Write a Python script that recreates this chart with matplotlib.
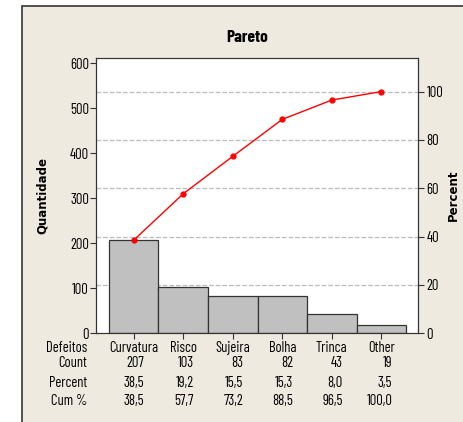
import matplotlib.pyplot as plt
from matplotlib.patches import Rectangle
from matplotlib.transforms import blended_transform_factory

# Dados do gráfico de Pareto
defeitos = ['Curvatura', 'Risco', 'Sujeira', 'Bolha', 'Trinca', 'Other']
count = [207, 103, 83, 82, 43, 19]
percent = [38.5, 19.2, 15.5, 15.3, 8.0, 3.5]
cum_pct = [38.5, 57.7, 73.2, 88.5, 96.5, 100.0]

# fonte estreita parecida com a do Minitab
plt.rcParams['font.family'] = ['Barlow Condensed', 'DejaVu Sans']

total = sum(count)
fundo = '#EEEAE0'
TAM = 10.5


def fmt(v):
    return f'{v:.1f}'.replace('.', ',')


fig = plt.figure(figsize=(4.64, 4.22), dpi=100, facecolor='white')

# moldura bege
fig.patches.append(Rectangle((22 / 464, -0.1), 1.2, 1 - 6 / 422 + 0.1,
                             transform=fig.transFigure, facecolor=fundo,
                             edgecolor='#333333', linewidth=1.2, zorder=-10))

ax = fig.add_axes([0.2069, 0.2102, 0.694, 0.6517])
ax.set_facecolor('white')
x = list(range(len(defeitos)))

# linhas de grade (em percentuais do total)
for p in [20, 40, 60, 80, 100]:
    ax.axhline(p / 100 * total, color='#BBBBBB', linestyle='--', linewidth=0.9, zorder=0)

ax.bar(x, count, width=1.0, color='#C0C0C0', edgecolor='#333333', linewidth=0.9, zorder=2)
ax.set_xlim(-0.76, 5.74)
ax.set_ylim(0, 611)
ax.set_yticks(range(0, 601, 100))
ax.set_xticks(x)
ax.set_xticklabels([])
ax.tick_params(axis='y', labelsize=TAM, length=4, color='#333333', pad=1)
ax.tick_params(axis='x', length=4, color='#333333')
for s in ax.spines.values():
    s.set_color('#333333')

ax2 = ax.twinx()
ax2.set_ylim(0, 611 / total * 100)
ax2.set_yticks([0, 20, 40, 60, 80, 100])
ax2.plot(x, cum_pct, color='red', marker='o', markersize=3.5, linewidth=1.0, zorder=3)
ax2.tick_params(axis='y', labelsize=TAM, length=4, color='#333333', pad=2)
for s in ax2.spines.values():
    s.set_color('#333333')

fig.text(42 / 464, 1 - 196 / 422, 'Quantidade', fontsize=8.5, fontweight='bold',
         rotation=90, ha='center', va='center', family='DejaVu Sans')
fig.text(453 / 464, 1 - 195 / 422, 'Percent', fontsize=8.5, fontweight='bold',
         rotation=90, ha='center', va='center', family='DejaVu Sans')
fig.text(247 / 464, 1 - 37 / 422, 'Pareto', fontsize=12.5, fontweight='bold',
         ha='center', va='center')

# tabela abaixo do gráfico
tr = blended_transform_factory(ax.transData, fig.transFigure)
linhas_y = [1 - 348 / 422, 1 - 363 / 422, 1 - 383 / 422, 1 - 401 / 422]
rotulos = ['Defeitos', 'Count', 'Percent', 'Cum %']
for yy, r in zip(linhas_y, rotulos):
    fig.text(87 / 464, yy, r, fontsize=TAM, ha='right', va='center')

for i in x:
    ax.text(i, linhas_y[0], defeitos[i], transform=tr, fontsize=TAM, ha='center', va='center')
    ax.text(i + 0.22, linhas_y[1], str(count[i]), transform=tr, fontsize=TAM, ha='right', va='center')
    ax.text(i + 0.22, linhas_y[2], fmt(percent[i]), transform=tr, fontsize=TAM, ha='right', va='center')
    ax.text(i + 0.22, linhas_y[3], fmt(cum_pct[i]), transform=tr, fontsize=TAM, ha='right', va='center')

fig.savefig('out.png', dpi=100, facecolor=fig.get_facecolor())
